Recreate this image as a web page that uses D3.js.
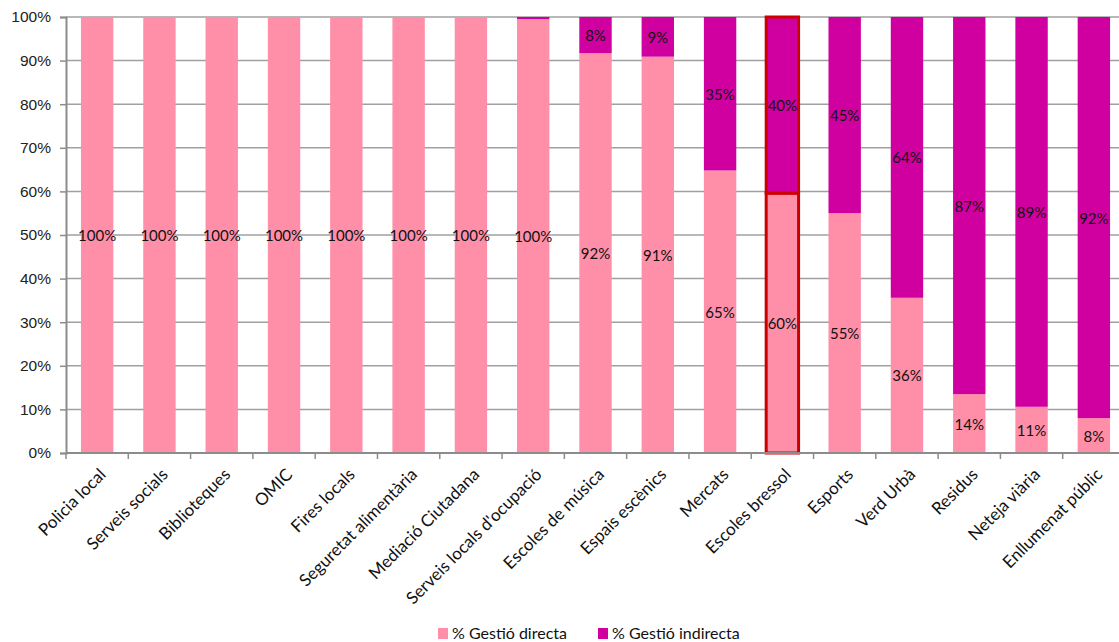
<!DOCTYPE html>
<html><head><meta charset="utf-8">
<script src="https://cdn.jsdelivr.net/npm/d3@7/dist/d3.min.js"></script>
<style>body{margin:0;background:#fff}svg{display:block;font-family:Lato,"Open Sans",sans-serif}</style>
</head><body><svg id="c" width="1119" height="642"></svg>
<script>
const categories = ["Policia local","Serveis socials","Biblioteques","OMIC","Fires locals","Seguretat alimentària","Mediació Ciutadana","Serveis locals d'ocupació","Escoles de música","Espais escènics","Mercats","Escoles bressol","Esports","Verd Urbà","Residus","Neteja viària","Enllumenat públic"];
const directa   = [100,100,100,100,100,100,100,99.5,91.7,90.9,64.8,59.6,55,35.6,13.5,10.6,8];
const indirecta = [0,0,0,0,0,0,0,0.5,8.3,9.1,35.2,40.4,45,64.4,86.5,89.4,92];
const yTicks = [0,10,20,30,40,50,60,70,80,90,100];
const seriesNames = ["% Gestió directa","% Gestió indirecta"];
const highlighted = "Escoles bressol";

const colors = ["#FF8FA8","#D000A0"];
const svg = d3.select("#c");
const x = d3.scaleBand().domain(categories).range([66,1125]).paddingInner(0.48).paddingOuter(0.24);
const y = d3.scaleLinear().domain([0,100]).range([453,17]);
const step = x.step();

// gridlines
svg.append("g").selectAll("line").data(yTicks.filter(t=>t>0)).join("line")
  .attr("x1",66).attr("x2",1125).attr("y1",d=>y(d)).attr("y2",d=>y(d))
  .attr("stroke","#a0a0a0").attr("stroke-width",1.5);

// y axis
const yAxis = d3.axisLeft(y).tickValues(yTicks).tickFormat(d=>d+"%").tickSize(6).tickPadding(9);
const ya = svg.append("g").attr("transform","translate(66,0)").call(yAxis);
ya.select(".domain").attr("stroke","#8c8c8c").attr("stroke-width",2);
ya.selectAll(".tick line").attr("stroke","#8c8c8c").attr("stroke-width",1.5);
ya.selectAll("text").attr("font-size",15.5).attr("fill","#222");

const stacks = categories.map((c,i)=>({c, segs:[{s:0,v:directa[i],y0:0,y1:directa[i]},{s:1,v:indirecta[i],y0:directa[i],y1:directa[i]+indirecta[i]}]}));

const g = svg.append("g");
stacks.forEach(st=>{
  st.segs.forEach(sg=>{
    if (sg.v<=0) return;
    g.append("rect").attr("x",x(st.c)).attr("width",x.bandwidth())
      .attr("y",y(sg.y1)).attr("height",y(sg.y0)-y(sg.y1))
      .attr("fill",colors[sg.s])
      .attr("stroke", st.c===highlighted ? "#CC0000" : "none")
      .attr("stroke-width", st.c===highlighted ? 3 : 0);
  });
});
// labels
stacks.forEach(st=>{
  st.segs.forEach(sg=>{
    if (sg.v<1) return;
    g.append("text").attr("x",x(st.c)+x.bandwidth()/2).attr("y",(y(sg.y0)+y(sg.y1))/2)
      .attr("text-anchor","middle").attr("dominant-baseline","central")
      .attr("font-size",15).attr("fill","#111").text(Math.round(sg.v)+"%");
  });
});

// x axis
svg.append("line").attr("x1",66).attr("x2",1125).attr("y1",453).attr("y2",453).attr("stroke","#8c8c8c").attr("stroke-width",2);
svg.append("g").selectAll("line").data(d3.range(categories.length+1)).join("line")
  .attr("x1",d=>66+d*step).attr("x2",d=>66+d*step).attr("y1",453).attr("y2",459)
  .attr("stroke","#8c8c8c").attr("stroke-width",1.5);
svg.append("g").selectAll("text").data(categories).join("text")
  .attr("transform",d=>`translate(${x(d)+x.bandwidth()/2},${466}) rotate(-45)`)
  .attr("text-anchor","end").attr("dominant-baseline","hanging")
  .attr("font-size",17).attr("fill","#111").text(d=>d);

// legend
const leg = svg.append("g");
const lx = [438,598];
seriesNames.forEach((n,i)=>{
  leg.append("rect").attr("x",lx[i]).attr("y",628).attr("width",10).attr("height",11).attr("fill",colors[i]);
  leg.append("text").attr("x",lx[i]+14).attr("y",639).attr("font-size",16).attr("fill","#111").text(n);
});
</script></body></html>
